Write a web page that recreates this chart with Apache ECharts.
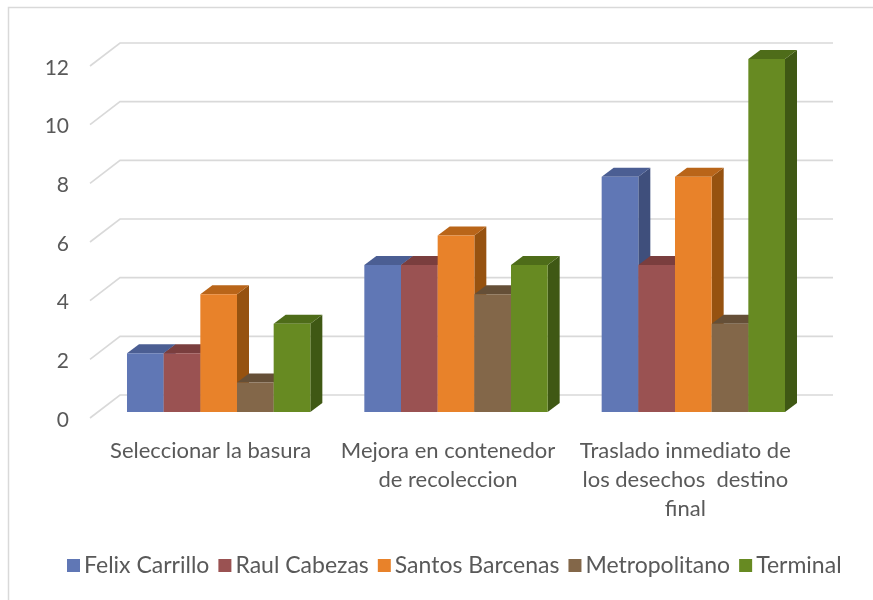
<!DOCTYPE html>
<html><head><meta charset="utf-8">
<script src="https://cdn.jsdelivr.net/npm/echarts@6/dist/echarts.min.js"></script>
<style>html,body{margin:0;padding:0;background:#fff}#c{width:873px;height:600px}</style>
</head><body><div id="c"></div>
<script>
var categories = ['Seleccionar la basura', 'Mejora en contenedor\nde recoleccion', 'Traslado inmediato de\nlos desechos  destino\nfinal'];
var seriesNames = ['Felix Carrillo', 'Raul Cabezas', 'Santos Barcenas', 'Metropolitano', 'Terminal'];
var felix = [2, 5, 8];
var raul = [2, 5, 5];
var santos = [4, 6, 8];
var metro = [1, 4, 3];
var terminal = [3, 5, 12];
var yTicks = [0, 2, 4, 6, 8, 10, 12];

var allValues = [felix, raul, santos, metro, terminal];
var front = ['#6077B5', '#9A5252', '#E8822A', '#836749', '#678A22'];
var topC = ['#4B5E93', '#7A3E3E', '#B96519', '#654F37', '#4E6C19'];
var side = ['#3F4F7C', '#693434', '#965210', '#574330', '#3F5814'];
var FONT = 'Lato';
var TXT = '#595959';

var chart = echarts.init(document.getElementById('c'), null, {renderer: 'canvas'});

function barRender(sIdx) {
  return function (params, api) {
    var cat = api.value(0), val = api.value(1);
    var base = api.coord([cat, 0]);
    var topP = api.coord([cat, val]);
    var band = api.size([1, 0])[0];
    var bw = band * 0.1545;
    var x0 = base[0] - 2.5 * bw + sIdx * bw;
    var x1 = x0 + bw;
    var yb = base[1], yt = topP[1];
    var dx = 12, dy = 9;
    return {
      type: 'group',
      children: [
        {type: 'polygon', shape: {points: [[x1, yb], [x1 + dx, yb - dy], [x1 + dx, yt - dy], [x1, yt]]}, style: {fill: side[sIdx]}},
        {type: 'polygon', shape: {points: [[x0, yt], [x0 + dx, yt - dy], [x1 + dx, yt - dy], [x1, yt]]}, style: {fill: topC[sIdx]}},
        {type: 'rect', shape: {x: x0, y: yt, width: bw, height: yb - yt}, style: {fill: front[sIdx]}}
      ]
    };
  };
}

var series = [];
series.push({
  type: 'custom', xAxisIndex: 1, yAxisIndex: 1, silent: true, z: 1,
  data: yTicks.map(function (v) { return [0, v]; }),
  renderItem: function (params, api) {
    var p = api.coord([0, api.value(1)]);
    var cs = params.coordSys;
    var y = p[1];
    return {type: 'polyline', shape: {points: [[cs.x - 30, y + 23], [cs.x, y], [cs.x + cs.width, y]]},
      style: {stroke: '#D9D9D9', lineWidth: 1.6, fill: null}};
  }
});
for (var s = 0; s < 5; s++) {
  series.push({
    type: 'custom', name: seriesNames[s], xAxisIndex: 0, yAxisIndex: 0, z: 2 + s,
    itemStyle: {color: front[s]},
    data: allValues[s].map(function (v, i) { return [i, v]; }),
    renderItem: barRender(s)
  });
}

chart.setOption({
  animation: false,
  backgroundColor: '#fff',
  graphic: [{type: 'rect', shape: {x: 8.5, y: 7.5, width: 900, height: 700}, style: {fill: null, stroke: '#D9D9D9', lineWidth: 1.5}, silent: true}],
  grid: [
    {left: 100, right: 61, top: 59, bottom: 188},
    {left: 120, right: 40, top: 43, bottom: 205},
    {left: 92, right: 69, top: 68, bottom: 180}
  ],
  xAxis: [
    {type: 'category', gridIndex: 0, data: categories, show: false},
    {type: 'category', gridIndex: 1, data: categories, show: false},
    {type: 'category', gridIndex: 2, data: categories, axisLine: {show: false}, axisTick: {show: false},
      axisLabel: {interval: 0, margin: 16, fontFamily: FONT, fontSize: 22, color: TXT, lineHeight: 29, verticalAlign: 'top'}}
  ],
  yAxis: [
    {type: 'value', gridIndex: 0, min: 0, max: 12, interval: 2, show: false},
    {type: 'value', gridIndex: 1, min: 0, max: 12, interval: 2, show: false},
    {type: 'value', gridIndex: 2, min: 0, max: 12, interval: 2, splitLine: {show: false}, axisLine: {show: false}, axisTick: {show: false},
      axisLabel: {margin: 23, fontFamily: FONT, fontSize: 21, color: TXT}}
  ],
  legend: {
    data: seriesNames, bottom: 18, left: 62, icon: 'rect', itemWidth: 13, itemHeight: 13, itemGap: 9,
    textStyle: {fontFamily: FONT, fontSize: 23, color: TXT, padding: [0, 0, 0, -1]}
  },
  series: series
});
</script></body></html>
